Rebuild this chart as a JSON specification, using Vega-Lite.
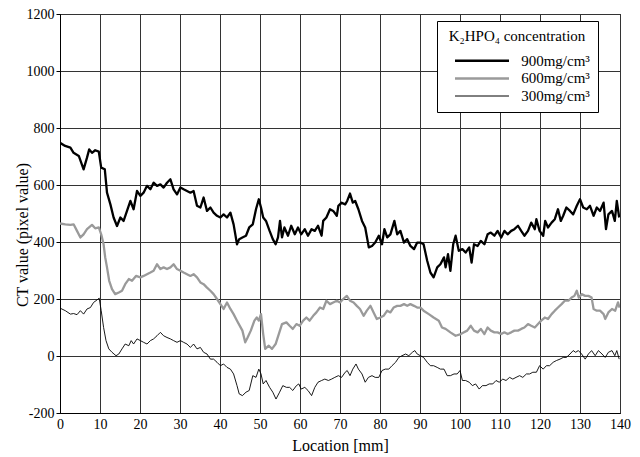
{
  "$schema": "https://vega.github.io/schema/vega-lite/v6.json",
  "width": 560,
  "height": 399,
  "autosize": {"type": "none"},
  "padding": {"left": 60, "top": 14, "right": 20, "bottom": 44},
  "background": "white",
  "config": {
    "font": "Liberation Serif",
    "view": {"stroke": "black", "strokeWidth": 1},
    "axis": {
      "labelFont": "Liberation Serif", "titleFont": "Liberation Serif",
      "labelFontSize": 14, "titleFontSize": 16, "titleFontWeight": "normal",
      "labelColor": "black", "titleColor": "black",
      "gridColor": "#333", "gridWidth": 1, "gridOpacity": 1,
      "domainColor": "black", "tickColor": "black", "tickSize": 4
    },
    "legend": {
      "labelFont": "Liberation Serif", "titleFont": "Liberation Serif"
    }
  },
  "data": {"values": [
    {"x":0,"v":748,"c":"900mg/cm³"},{"x":1.3,"v":737,"c":"900mg/cm³"},{"x":2.6,"v":731,"c":"900mg/cm³"},{"x":3.4,"v":713,"c":"900mg/cm³"},{"x":4.7,"v":702,"c":"900mg/cm³"},{"x":5.9,"v":655,"c":"900mg/cm³"},{"x":6.75,"v":696,"c":"900mg/cm³"},{"x":7.3,"v":725,"c":"900mg/cm³"},{"x":8,"v":713,"c":"900mg/cm³"},{"x":8.8,"v":722,"c":"900mg/cm³"},{"x":9.7,"v":717,"c":"900mg/cm³"},{"x":10.3,"v":661,"c":"900mg/cm³"},{"x":11.2,"v":655,"c":"900mg/cm³"},{"x":11.75,"v":573,"c":"900mg/cm³"},{"x":12.6,"v":532,"c":"900mg/cm³"},{"x":13.4,"v":486,"c":"900mg/cm³"},{"x":14.25,"v":456,"c":"900mg/cm³"},{"x":15.1,"v":486,"c":"900mg/cm³"},{"x":15.9,"v":474,"c":"900mg/cm³"},{"x":16.75,"v":509,"c":"900mg/cm³"},{"x":17.6,"v":544,"c":"900mg/cm³"},{"x":18.4,"v":515,"c":"900mg/cm³"},{"x":19.25,"v":579,"c":"900mg/cm³"},{"x":20.1,"v":562,"c":"900mg/cm³"},{"x":20.9,"v":573,"c":"900mg/cm³"},{"x":21.75,"v":597,"c":"900mg/cm³"},{"x":22.6,"v":585,"c":"900mg/cm³"},{"x":23.4,"v":608,"c":"900mg/cm³"},{"x":24.25,"v":597,"c":"900mg/cm³"},{"x":25.1,"v":602,"c":"900mg/cm³"},{"x":25.9,"v":591,"c":"900mg/cm³"},{"x":26.75,"v":608,"c":"900mg/cm³"},{"x":27.6,"v":620,"c":"900mg/cm³"},{"x":28.4,"v":585,"c":"900mg/cm³"},{"x":29.25,"v":567,"c":"900mg/cm³"},{"x":30.1,"v":591,"c":"900mg/cm³"},{"x":30.9,"v":585,"c":"900mg/cm³"},{"x":31.75,"v":579,"c":"900mg/cm³"},{"x":32.6,"v":573,"c":"900mg/cm³"},{"x":33.4,"v":579,"c":"900mg/cm³"},{"x":34.25,"v":527,"c":"900mg/cm³"},{"x":35.1,"v":521,"c":"900mg/cm³"},{"x":35.9,"v":556,"c":"900mg/cm³"},{"x":36.75,"v":509,"c":"900mg/cm³"},{"x":37.6,"v":521,"c":"900mg/cm³"},{"x":38.4,"v":503,"c":"900mg/cm³"},{"x":39.25,"v":492,"c":"900mg/cm³"},{"x":40.1,"v":486,"c":"900mg/cm³"},{"x":40.9,"v":497,"c":"900mg/cm³"},{"x":41.75,"v":486,"c":"900mg/cm³"},{"x":42.6,"v":503,"c":"900mg/cm³"},{"x":43.4,"v":462,"c":"900mg/cm³"},{"x":44.25,"v":392,"c":"900mg/cm³"},
    {"x":44.8,"v":410,"c":"900mg/cm³"},{"x":45.6,"v":416,"c":"900mg/cm³"},{"x":46.5,"v":422,"c":"900mg/cm³"},{"x":47.3,"v":451,"c":"900mg/cm³"},{"x":48.2,"v":462,"c":"900mg/cm³"},{"x":49,"v":515,"c":"900mg/cm³"},{"x":49.7,"v":550,"c":"900mg/cm³"},{"x":50.25,"v":521,"c":"900mg/cm³"},{"x":50.8,"v":486,"c":"900mg/cm³"},{"x":51.5,"v":474,"c":"900mg/cm³"},{"x":52.4,"v":439,"c":"900mg/cm³"},{"x":53.2,"v":410,"c":"900mg/cm³"},{"x":53.9,"v":392,"c":"900mg/cm³"},{"x":54.5,"v":416,"c":"900mg/cm³"},{"x":55,"v":474,"c":"900mg/cm³"},{"x":55.5,"v":416,"c":"900mg/cm³"},{"x":56.1,"v":451,"c":"900mg/cm³"},{"x":57,"v":422,"c":"900mg/cm³"},{"x":57.8,"v":457,"c":"900mg/cm³"},{"x":58.7,"v":427,"c":"900mg/cm³"},{"x":59.5,"v":451,"c":"900mg/cm³"},{"x":60.3,"v":427,"c":"900mg/cm³"},{"x":61.2,"v":445,"c":"900mg/cm³"},{"x":62,"v":422,"c":"900mg/cm³"},{"x":62.9,"v":445,"c":"900mg/cm³"},{"x":63.7,"v":439,"c":"900mg/cm³"},{"x":64.5,"v":457,"c":"900mg/cm³"},{"x":65.4,"v":422,"c":"900mg/cm³"},{"x":65.8,"v":474,"c":"900mg/cm³"},{"x":66.6,"v":486,"c":"900mg/cm³"},{"x":67.5,"v":515,"c":"900mg/cm³"},{"x":68.3,"v":509,"c":"900mg/cm³"},{"x":69.2,"v":492,"c":"900mg/cm³"},{"x":69.6,"v":527,"c":"900mg/cm³"},{"x":70.4,"v":538,"c":"900mg/cm³"},{"x":71.3,"v":532,"c":"900mg/cm³"},{"x":71.8,"v":544,"c":"900mg/cm³"},{"x":72.5,"v":570,"c":"900mg/cm³"},{"x":73.2,"v":538,"c":"900mg/cm³"},{"x":73.8,"v":544,"c":"900mg/cm³"},{"x":74.6,"v":515,"c":"900mg/cm³"},{"x":75.5,"v":474,"c":"900mg/cm³"},{"x":76.3,"v":451,"c":"900mg/cm³"},{"x":77.2,"v":381,"c":"900mg/cm³"},{"x":78,"v":386,"c":"900mg/cm³"},{"x":78.8,"v":398,"c":"900mg/cm³"},{"x":79.7,"v":422,"c":"900mg/cm³"},{"x":80.5,"v":392,"c":"900mg/cm³"},{"x":81.1,"v":445,"c":"900mg/cm³"},{"x":81.8,"v":416,"c":"900mg/cm³"},{"x":82.6,"v":427,"c":"900mg/cm³"},{"x":83.6,"v":474,"c":"900mg/cm³"},{"x":84.3,"v":427,"c":"900mg/cm³"},{"x":85.1,"v":439,"c":"900mg/cm³"},{"x":86,"v":398,"c":"900mg/cm³"},{"x":86.8,"v":410,"c":"900mg/cm³"},{"x":87.6,"v":386,"c":"900mg/cm³"},{"x":88.5,"v":375,"c":"900mg/cm³"},{"x":89.3,"v":398,"c":"900mg/cm³"},
    {"x":90.1,"v":398,"c":"900mg/cm³"},{"x":90.9,"v":392,"c":"900mg/cm³"},{"x":91.8,"v":334,"c":"900mg/cm³"},{"x":92.6,"v":293,"c":"900mg/cm³"},{"x":93.4,"v":276,"c":"900mg/cm³"},{"x":94.3,"v":311,"c":"900mg/cm³"},{"x":95.1,"v":322,"c":"900mg/cm³"},{"x":96,"v":346,"c":"900mg/cm³"},{"x":96.4,"v":311,"c":"900mg/cm³"},{"x":97,"v":357,"c":"900mg/cm³"},{"x":97.6,"v":299,"c":"900mg/cm³"},{"x":98.3,"v":392,"c":"900mg/cm³"},{"x":98.9,"v":422,"c":"900mg/cm³"},{"x":99.7,"v":369,"c":"900mg/cm³"},{"x":100.6,"v":375,"c":"900mg/cm³"},{"x":101.4,"v":363,"c":"900mg/cm³"},{"x":102.3,"v":381,"c":"900mg/cm³"},{"x":102.9,"v":328,"c":"900mg/cm³"},{"x":103.5,"v":392,"c":"900mg/cm³"},{"x":104.4,"v":386,"c":"900mg/cm³"},{"x":105.2,"v":404,"c":"900mg/cm³"},{"x":106.1,"v":392,"c":"900mg/cm³"},{"x":106.9,"v":427,"c":"900mg/cm³"},{"x":107.7,"v":433,"c":"900mg/cm³"},{"x":108.6,"v":422,"c":"900mg/cm³"},{"x":109.4,"v":439,"c":"900mg/cm³"},{"x":110.3,"v":416,"c":"900mg/cm³"},{"x":111.1,"v":439,"c":"900mg/cm³"},{"x":111.9,"v":427,"c":"900mg/cm³"},{"x":112.8,"v":439,"c":"900mg/cm³"},{"x":113.6,"v":445,"c":"900mg/cm³"},{"x":114.5,"v":457,"c":"900mg/cm³"},{"x":115.3,"v":439,"c":"900mg/cm³"},{"x":116.1,"v":422,"c":"900mg/cm³"},{"x":117,"v":439,"c":"900mg/cm³"},{"x":117.8,"v":468,"c":"900mg/cm³"},{"x":118.7,"v":445,"c":"900mg/cm³"},{"x":119.1,"v":480,"c":"900mg/cm³"},{"x":119.9,"v":439,"c":"900mg/cm³"},{"x":120.8,"v":422,"c":"900mg/cm³"},{"x":121.3,"v":474,"c":"900mg/cm³"},{"x":122,"v":451,"c":"900mg/cm³"},{"x":122.9,"v":468,"c":"900mg/cm³"},{"x":123.7,"v":480,"c":"900mg/cm³"},{"x":124.5,"v":515,"c":"900mg/cm³"},{"x":125.2,"v":474,"c":"900mg/cm³"},{"x":125.8,"v":492,"c":"900mg/cm³"},{"x":126.6,"v":521,"c":"900mg/cm³"},{"x":127.5,"v":509,"c":"900mg/cm³"},{"x":128.3,"v":497,"c":"900mg/cm³"},{"x":129.2,"v":527,"c":"900mg/cm³"},{"x":130,"v":550,"c":"900mg/cm³"},{"x":130.8,"v":521,"c":"900mg/cm³"},{"x":131.7,"v":515,"c":"900mg/cm³"},{"x":132.5,"v":527,"c":"900mg/cm³"},{"x":133.4,"v":492,"c":"900mg/cm³"},{"x":134.2,"v":521,"c":"900mg/cm³"},{"x":135,"v":509,"c":"900mg/cm³"},{"x":135.9,"v":538,"c":"900mg/cm³"},{"x":136.5,"v":445,"c":"900mg/cm³"},{"x":137.1,"v":497,"c":"900mg/cm³"},{"x":138,"v":509,"c":"900mg/cm³"},{"x":138.7,"v":474,"c":"900mg/cm³"},{"x":139.2,"v":544,"c":"900mg/cm³"},{"x":139.8,"v":486,"c":"900mg/cm³"},

    {"x":0,"v":465,"c":"600mg/cm³"},{"x":1.33,"v":462,"c":"600mg/cm³"},{"x":2.6,"v":460,"c":"600mg/cm³"},{"x":3.4,"v":462,"c":"600mg/cm³"},{"x":4.25,"v":439,"c":"600mg/cm³"},{"x":5.1,"v":416,"c":"600mg/cm³"},{"x":5.9,"v":427,"c":"600mg/cm³"},{"x":6.75,"v":445,"c":"600mg/cm³"},{"x":8,"v":460,"c":"600mg/cm³"},{"x":8.8,"v":448,"c":"600mg/cm³"},{"x":9.7,"v":451,"c":"600mg/cm³"},{"x":10.3,"v":427,"c":"600mg/cm³"},{"x":10.9,"v":392,"c":"600mg/cm³"},{"x":11.3,"v":346,"c":"600mg/cm³"},{"x":11.75,"v":311,"c":"600mg/cm³"},{"x":12.3,"v":264,"c":"600mg/cm³"},{"x":13,"v":235,"c":"600mg/cm³"},{"x":13.8,"v":217,"c":"600mg/cm³"},{"x":14.7,"v":223,"c":"600mg/cm³"},{"x":15.5,"v":229,"c":"600mg/cm³"},{"x":16.3,"v":252,"c":"600mg/cm³"},{"x":17.2,"v":270,"c":"600mg/cm³"},{"x":18,"v":264,"c":"600mg/cm³"},{"x":19,"v":281,"c":"600mg/cm³"},{"x":20.1,"v":276,"c":"600mg/cm³"},{"x":20.9,"v":281,"c":"600mg/cm³"},{"x":21.75,"v":287,"c":"600mg/cm³"},{"x":22.6,"v":293,"c":"600mg/cm³"},{"x":23.4,"v":299,"c":"600mg/cm³"},{"x":24.25,"v":322,"c":"600mg/cm³"},{"x":25.1,"v":305,"c":"600mg/cm³"},{"x":25.9,"v":311,"c":"600mg/cm³"},{"x":26.75,"v":305,"c":"600mg/cm³"},{"x":27.6,"v":311,"c":"600mg/cm³"},{"x":28.4,"v":322,"c":"600mg/cm³"},{"x":29.25,"v":305,"c":"600mg/cm³"},{"x":30.1,"v":299,"c":"600mg/cm³"},{"x":30.9,"v":293,"c":"600mg/cm³"},{"x":31.75,"v":287,"c":"600mg/cm³"},{"x":32.6,"v":281,"c":"600mg/cm³"},{"x":33.4,"v":287,"c":"600mg/cm³"},{"x":34.25,"v":276,"c":"600mg/cm³"},{"x":35.1,"v":258,"c":"600mg/cm³"},{"x":35.9,"v":252,"c":"600mg/cm³"},{"x":36.75,"v":240,"c":"600mg/cm³"},{"x":37.6,"v":229,"c":"600mg/cm³"},{"x":38.4,"v":217,"c":"600mg/cm³"},{"x":39.25,"v":200,"c":"600mg/cm³"},{"x":40.1,"v":182,"c":"600mg/cm³"},{"x":40.9,"v":165,"c":"600mg/cm³"},{"x":41.75,"v":188,"c":"600mg/cm³"},{"x":42.6,"v":165,"c":"600mg/cm³"},{"x":43.4,"v":147,"c":"600mg/cm³"},{"x":44.25,"v":124,"c":"600mg/cm³"},
    {"x":45.6,"v":89,"c":"600mg/cm³"},{"x":46.3,"v":48,"c":"600mg/cm³"},{"x":46.9,"v":65,"c":"600mg/cm³"},{"x":47.7,"v":89,"c":"600mg/cm³"},{"x":48.6,"v":124,"c":"600mg/cm³"},{"x":49.2,"v":135,"c":"600mg/cm³"},{"x":49.7,"v":124,"c":"600mg/cm³"},{"x":50.25,"v":147,"c":"600mg/cm³"},{"x":50.8,"v":77,"c":"600mg/cm³"},{"x":51.3,"v":25,"c":"600mg/cm³"},{"x":52.2,"v":36,"c":"600mg/cm³"},{"x":53,"v":25,"c":"600mg/cm³"},{"x":53.9,"v":42,"c":"600mg/cm³"},{"x":54.7,"v":77,"c":"600mg/cm³"},{"x":55.5,"v":112,"c":"600mg/cm³"},{"x":56.6,"v":118,"c":"600mg/cm³"},{"x":57.4,"v":106,"c":"600mg/cm³"},{"x":58.2,"v":95,"c":"600mg/cm³"},{"x":59.1,"v":112,"c":"600mg/cm³"},{"x":59.9,"v":106,"c":"600mg/cm³"},{"x":60.8,"v":124,"c":"600mg/cm³"},{"x":61.6,"v":135,"c":"600mg/cm³"},{"x":62.4,"v":124,"c":"600mg/cm³"},{"x":63.3,"v":141,"c":"600mg/cm³"},{"x":64.1,"v":153,"c":"600mg/cm³"},{"x":65,"v":170,"c":"600mg/cm³"},{"x":65.8,"v":165,"c":"600mg/cm³"},{"x":66.6,"v":194,"c":"600mg/cm³"},{"x":67.5,"v":182,"c":"600mg/cm³"},{"x":68.3,"v":188,"c":"600mg/cm³"},{"x":69.2,"v":194,"c":"600mg/cm³"},{"x":70,"v":188,"c":"600mg/cm³"},{"x":70.8,"v":200,"c":"600mg/cm³"},{"x":71.7,"v":211,"c":"600mg/cm³"},{"x":72.5,"v":194,"c":"600mg/cm³"},{"x":73.4,"v":188,"c":"600mg/cm³"},{"x":74.2,"v":176,"c":"600mg/cm³"},{"x":75,"v":165,"c":"600mg/cm³"},{"x":75.9,"v":141,"c":"600mg/cm³"},{"x":76.7,"v":159,"c":"600mg/cm³"},{"x":77.6,"v":176,"c":"600mg/cm³"},{"x":78.4,"v":153,"c":"600mg/cm³"},{"x":79.2,"v":130,"c":"600mg/cm³"},{"x":80.1,"v":135,"c":"600mg/cm³"},{"x":80.9,"v":141,"c":"600mg/cm³"},{"x":81.8,"v":159,"c":"600mg/cm³"},{"x":82.6,"v":153,"c":"600mg/cm³"},{"x":83.4,"v":170,"c":"600mg/cm³"},{"x":84.3,"v":176,"c":"600mg/cm³"},{"x":85.1,"v":176,"c":"600mg/cm³"},{"x":86,"v":182,"c":"600mg/cm³"},{"x":86.8,"v":176,"c":"600mg/cm³"},{"x":87.6,"v":182,"c":"600mg/cm³"},{"x":88.5,"v":176,"c":"600mg/cm³"},{"x":89.3,"v":170,"c":"600mg/cm³"},
    {"x":90.1,"v":170,"c":"600mg/cm³"},{"x":90.9,"v":159,"c":"600mg/cm³"},{"x":92.2,"v":147,"c":"600mg/cm³"},{"x":93.4,"v":135,"c":"600mg/cm³"},{"x":94.7,"v":124,"c":"600mg/cm³"},{"x":95.5,"v":100,"c":"600mg/cm³"},{"x":96.4,"v":95,"c":"600mg/cm³"},{"x":97.6,"v":83,"c":"600mg/cm³"},{"x":98.9,"v":71,"c":"600mg/cm³"},{"x":100.2,"v":77,"c":"600mg/cm³"},{"x":101,"v":83,"c":"600mg/cm³"},{"x":101.8,"v":89,"c":"600mg/cm³"},{"x":102.7,"v":106,"c":"600mg/cm³"},{"x":103.5,"v":89,"c":"600mg/cm³"},{"x":104.4,"v":83,"c":"600mg/cm³"},{"x":105.2,"v":95,"c":"600mg/cm³"},{"x":106.1,"v":77,"c":"600mg/cm³"},{"x":106.9,"v":100,"c":"600mg/cm³"},{"x":107.7,"v":89,"c":"600mg/cm³"},{"x":108.6,"v":83,"c":"600mg/cm³"},{"x":109.4,"v":83,"c":"600mg/cm³"},{"x":110.3,"v":77,"c":"600mg/cm³"},{"x":111.1,"v":83,"c":"600mg/cm³"},{"x":111.9,"v":77,"c":"600mg/cm³"},{"x":112.8,"v":83,"c":"600mg/cm³"},{"x":113.6,"v":89,"c":"600mg/cm³"},{"x":114.5,"v":89,"c":"600mg/cm³"},{"x":115.3,"v":95,"c":"600mg/cm³"},{"x":116.1,"v":100,"c":"600mg/cm³"},{"x":117,"v":112,"c":"600mg/cm³"},{"x":117.8,"v":106,"c":"600mg/cm³"},{"x":118.7,"v":100,"c":"600mg/cm³"},{"x":119.5,"v":112,"c":"600mg/cm³"},{"x":120.3,"v":124,"c":"600mg/cm³"},{"x":121.2,"v":135,"c":"600mg/cm³"},{"x":122,"v":130,"c":"600mg/cm³"},{"x":122.9,"v":147,"c":"600mg/cm³"},{"x":123.7,"v":159,"c":"600mg/cm³"},{"x":124.5,"v":170,"c":"600mg/cm³"},{"x":125.4,"v":182,"c":"600mg/cm³"},{"x":126.2,"v":194,"c":"600mg/cm³"},{"x":127.1,"v":194,"c":"600mg/cm³"},{"x":127.9,"v":205,"c":"600mg/cm³"},{"x":128.6,"v":211,"c":"600mg/cm³"},{"x":129.2,"v":229,"c":"600mg/cm³"},{"x":129.7,"v":205,"c":"600mg/cm³"},{"x":130.4,"v":217,"c":"600mg/cm³"},{"x":131.3,"v":211,"c":"600mg/cm³"},{"x":132.1,"v":211,"c":"600mg/cm³"},{"x":132.9,"v":205,"c":"600mg/cm³"},{"x":133.4,"v":165,"c":"600mg/cm³"},{"x":134.2,"v":159,"c":"600mg/cm³"},{"x":135,"v":159,"c":"600mg/cm³"},{"x":135.9,"v":147,"c":"600mg/cm³"},{"x":136.3,"v":130,"c":"600mg/cm³"},{"x":137.1,"v":153,"c":"600mg/cm³"},{"x":138,"v":165,"c":"600mg/cm³"},{"x":138.8,"v":159,"c":"600mg/cm³"},{"x":139.5,"v":188,"c":"600mg/cm³"},{"x":139.9,"v":170,"c":"600mg/cm³"},

    {"x":0,"v":168,"c":"300mg/cm³"},{"x":1.33,"v":159,"c":"300mg/cm³"},{"x":2.6,"v":147,"c":"300mg/cm³"},{"x":3.4,"v":149,"c":"300mg/cm³"},{"x":4.25,"v":145,"c":"300mg/cm³"},{"x":5.1,"v":159,"c":"300mg/cm³"},{"x":5.9,"v":147,"c":"300mg/cm³"},{"x":6.75,"v":165,"c":"300mg/cm³"},{"x":7.6,"v":170,"c":"300mg/cm³"},{"x":8.4,"v":188,"c":"300mg/cm³"},{"x":9,"v":194,"c":"300mg/cm³"},{"x":9.8,"v":203,"c":"300mg/cm³"},{"x":10.3,"v":159,"c":"300mg/cm³"},{"x":10.9,"v":100,"c":"300mg/cm³"},{"x":11.5,"v":54,"c":"300mg/cm³"},{"x":12.2,"v":25,"c":"300mg/cm³"},{"x":13,"v":13,"c":"300mg/cm³"},{"x":14,"v":1,"c":"300mg/cm³"},{"x":14.7,"v":7,"c":"300mg/cm³"},{"x":15.5,"v":25,"c":"300mg/cm³"},{"x":16.3,"v":42,"c":"300mg/cm³"},{"x":17.2,"v":36,"c":"300mg/cm³"},{"x":17.8,"v":54,"c":"300mg/cm³"},{"x":18.4,"v":42,"c":"300mg/cm³"},{"x":19.25,"v":60,"c":"300mg/cm³"},{"x":20.1,"v":54,"c":"300mg/cm³"},{"x":20.9,"v":48,"c":"300mg/cm³"},{"x":21.75,"v":42,"c":"300mg/cm³"},{"x":22.6,"v":54,"c":"300mg/cm³"},{"x":23.4,"v":60,"c":"300mg/cm³"},{"x":24.25,"v":71,"c":"300mg/cm³"},{"x":25.1,"v":83,"c":"300mg/cm³"},{"x":25.9,"v":71,"c":"300mg/cm³"},{"x":26.75,"v":65,"c":"300mg/cm³"},{"x":27.6,"v":60,"c":"300mg/cm³"},{"x":28.4,"v":54,"c":"300mg/cm³"},{"x":29.25,"v":48,"c":"300mg/cm³"},{"x":30.1,"v":54,"c":"300mg/cm³"},{"x":30.9,"v":48,"c":"300mg/cm³"},{"x":31.75,"v":42,"c":"300mg/cm³"},{"x":32.6,"v":30,"c":"300mg/cm³"},{"x":33.4,"v":42,"c":"300mg/cm³"},{"x":34.25,"v":25,"c":"300mg/cm³"},{"x":35.1,"v":30,"c":"300mg/cm³"},{"x":35.9,"v":13,"c":"300mg/cm³"},{"x":36.75,"v":7,"c":"300mg/cm³"},{"x":37.6,"v":-11,"c":"300mg/cm³"},{"x":38.4,"v":-11,"c":"300mg/cm³"},{"x":39.25,"v":-22,"c":"300mg/cm³"},{"x":40.1,"v":-34,"c":"300mg/cm³"},{"x":40.9,"v":-28,"c":"300mg/cm³"},{"x":41.75,"v":-40,"c":"300mg/cm³"},{"x":42.6,"v":-46,"c":"300mg/cm³"},{"x":43.4,"v":-63,"c":"300mg/cm³"},{"x":44.25,"v":-104,"c":"300mg/cm³"},
    {"x":44.8,"v":-133,"c":"300mg/cm³"},{"x":45.6,"v":-139,"c":"300mg/cm³"},{"x":46.5,"v":-127,"c":"300mg/cm³"},{"x":47.3,"v":-121,"c":"300mg/cm³"},{"x":48.2,"v":-69,"c":"300mg/cm³"},{"x":49,"v":-75,"c":"300mg/cm³"},{"x":49.7,"v":-46,"c":"300mg/cm³"},{"x":50.25,"v":-63,"c":"300mg/cm³"},{"x":50.8,"v":-98,"c":"300mg/cm³"},{"x":51.5,"v":-86,"c":"300mg/cm³"},{"x":52.4,"v":-110,"c":"300mg/cm³"},{"x":53.2,"v":-127,"c":"300mg/cm³"},{"x":54,"v":-151,"c":"300mg/cm³"},{"x":54.9,"v":-127,"c":"300mg/cm³"},{"x":55.7,"v":-104,"c":"300mg/cm³"},{"x":56.6,"v":-110,"c":"300mg/cm³"},{"x":57.4,"v":-110,"c":"300mg/cm³"},{"x":58.2,"v":-121,"c":"300mg/cm³"},{"x":59.1,"v":-104,"c":"300mg/cm³"},{"x":59.7,"v":-98,"c":"300mg/cm³"},{"x":60.3,"v":-116,"c":"300mg/cm³"},{"x":61.2,"v":-110,"c":"300mg/cm³"},{"x":62,"v":-121,"c":"300mg/cm³"},{"x":62.9,"v":-139,"c":"300mg/cm³"},{"x":63.7,"v":-110,"c":"300mg/cm³"},{"x":64.5,"v":-92,"c":"300mg/cm³"},{"x":65.4,"v":-86,"c":"300mg/cm³"},{"x":66.2,"v":-81,"c":"300mg/cm³"},{"x":67.1,"v":-86,"c":"300mg/cm³"},{"x":67.9,"v":-81,"c":"300mg/cm³"},{"x":68.7,"v":-75,"c":"300mg/cm³"},{"x":69.6,"v":-69,"c":"300mg/cm³"},{"x":70.4,"v":-75,"c":"300mg/cm³"},{"x":71.3,"v":-57,"c":"300mg/cm³"},{"x":71.8,"v":-51,"c":"300mg/cm³"},{"x":72.5,"v":-69,"c":"300mg/cm³"},{"x":73.2,"v":-46,"c":"300mg/cm³"},{"x":74,"v":-28,"c":"300mg/cm³"},{"x":74.6,"v":-46,"c":"300mg/cm³"},{"x":75.5,"v":-63,"c":"300mg/cm³"},{"x":76.3,"v":-92,"c":"300mg/cm³"},{"x":77.1,"v":-75,"c":"300mg/cm³"},{"x":78,"v":-69,"c":"300mg/cm³"},{"x":78.8,"v":-75,"c":"300mg/cm³"},{"x":79.7,"v":-75,"c":"300mg/cm³"},{"x":80.5,"v":-51,"c":"300mg/cm³"},{"x":81.3,"v":-46,"c":"300mg/cm³"},{"x":82.2,"v":-46,"c":"300mg/cm³"},{"x":83,"v":-34,"c":"300mg/cm³"},{"x":83.9,"v":-22,"c":"300mg/cm³"},{"x":84.7,"v":-5,"c":"300mg/cm³"},{"x":85.5,"v":1,"c":"300mg/cm³"},{"x":86.4,"v":7,"c":"300mg/cm³"},{"x":87.2,"v":1,"c":"300mg/cm³"},{"x":88.1,"v":13,"c":"300mg/cm³"},{"x":88.7,"v":19,"c":"300mg/cm³"},{"x":89.3,"v":7,"c":"300mg/cm³"},
    {"x":90.1,"v":1,"c":"300mg/cm³"},{"x":90.9,"v":-5,"c":"300mg/cm³"},{"x":91.8,"v":-22,"c":"300mg/cm³"},{"x":92.6,"v":-34,"c":"300mg/cm³"},{"x":93.4,"v":-34,"c":"300mg/cm³"},{"x":94.3,"v":-40,"c":"300mg/cm³"},{"x":95.1,"v":-46,"c":"300mg/cm³"},{"x":96,"v":-46,"c":"300mg/cm³"},{"x":96.8,"v":-69,"c":"300mg/cm³"},{"x":97.6,"v":-69,"c":"300mg/cm³"},{"x":98.5,"v":-63,"c":"300mg/cm³"},{"x":99.3,"v":-63,"c":"300mg/cm³"},{"x":100,"v":-51,"c":"300mg/cm³"},{"x":100.6,"v":-86,"c":"300mg/cm³"},{"x":101.4,"v":-86,"c":"300mg/cm³"},{"x":102.3,"v":-92,"c":"300mg/cm³"},{"x":103.1,"v":-104,"c":"300mg/cm³"},{"x":103.9,"v":-98,"c":"300mg/cm³"},{"x":104.8,"v":-116,"c":"300mg/cm³"},{"x":105.6,"v":-104,"c":"300mg/cm³"},{"x":106.5,"v":-104,"c":"300mg/cm³"},{"x":107.3,"v":-98,"c":"300mg/cm³"},{"x":108.2,"v":-98,"c":"300mg/cm³"},{"x":109,"v":-86,"c":"300mg/cm³"},{"x":109.8,"v":-92,"c":"300mg/cm³"},{"x":110.7,"v":-81,"c":"300mg/cm³"},{"x":111.5,"v":-86,"c":"300mg/cm³"},{"x":112.4,"v":-75,"c":"300mg/cm³"},{"x":113.2,"v":-81,"c":"300mg/cm³"},{"x":114,"v":-75,"c":"300mg/cm³"},{"x":114.9,"v":-69,"c":"300mg/cm³"},{"x":115.7,"v":-75,"c":"300mg/cm³"},{"x":116.6,"v":-63,"c":"300mg/cm³"},{"x":117.4,"v":-63,"c":"300mg/cm³"},{"x":118.2,"v":-57,"c":"300mg/cm³"},{"x":119.1,"v":-57,"c":"300mg/cm³"},{"x":119.9,"v":-34,"c":"300mg/cm³"},{"x":120.8,"v":-46,"c":"300mg/cm³"},{"x":121.6,"v":-34,"c":"300mg/cm³"},{"x":122.4,"v":-34,"c":"300mg/cm³"},{"x":123.3,"v":-22,"c":"300mg/cm³"},{"x":124.1,"v":-16,"c":"300mg/cm³"},{"x":125,"v":-11,"c":"300mg/cm³"},{"x":125.8,"v":-5,"c":"300mg/cm³"},{"x":126.6,"v":-5,"c":"300mg/cm³"},{"x":127.5,"v":7,"c":"300mg/cm³"},{"x":128.3,"v":19,"c":"300mg/cm³"},{"x":128.9,"v":13,"c":"300mg/cm³"},{"x":129.6,"v":19,"c":"300mg/cm³"},{"x":130.4,"v":7,"c":"300mg/cm³"},{"x":131.3,"v":-11,"c":"300mg/cm³"},{"x":132.1,"v":7,"c":"300mg/cm³"},{"x":132.9,"v":19,"c":"300mg/cm³"},{"x":133.8,"v":1,"c":"300mg/cm³"},{"x":134.6,"v":19,"c":"300mg/cm³"},{"x":135.5,"v":7,"c":"300mg/cm³"},{"x":136.3,"v":-5,"c":"300mg/cm³"},{"x":137.1,"v":13,"c":"300mg/cm³"},{"x":138,"v":19,"c":"300mg/cm³"},{"x":138.7,"v":1,"c":"300mg/cm³"},{"x":139.2,"v":19,"c":"300mg/cm³"},{"x":139.8,"v":-11,"c":"300mg/cm³"}
  ]},
  "mark": {"type": "line", "strokeJoin": "round", "clip": true},
  "encoding": {
    "x": {
      "field": "x", "type": "quantitative",
      "scale": {"domain": [0, 140], "nice": false, "zero": false},
      "axis": {"title": "Location [mm]", "values": [0,10,20,30,40,50,60,70,80,90,100,110,120,130,140], "grid": true,
               "ticks": false, "labelPadding": 4, "titlePadding": 6, "labelFlush": false,
               "labelFont": "Liberation Serif", "labelExpr": "'' + datum.value"}
    },
    "y": {
      "field": "v", "type": "quantitative",
      "scale": {"domain": [-200, 1200], "nice": false, "zero": false},
      "axis": {"title": "CT value (pixel value)", "values": [-200,0,200,400,600,800,1000,1200], "grid": true,
               "labelPadding": 2, "titleX": -30, "titleY": 220.5,
               "labelFont": "Liberation Serif", "labelExpr": "'' + datum.value", "labelFlush": false}
    },
    "color": {
      "field": "c", "type": "nominal",
      "scale": {"domain": ["900mg/cm³", "600mg/cm³", "300mg/cm³"], "range": ["#000000", "#9a9a9a", "#000000"]},
      "legend": {
        "title": "K₂HPO₄ concentration",
        "orient": "none", "legendX": 377, "legendY": 7,
        "titleFontSize": 15, "titleFontWeight": "normal", "titleColor": "black", "titleAnchor": "middle", "titlePadding": 9.3,
        "labelFontSize": 15, "labelColor": "black", "labelOffset": 31.7, "labelAlign": "left",
        "symbolType": "M-3.857,0H3.857", "symbolSize": 196, "symbolOffset": 29.5, "symbolStrokeWidth": 2.5,
        "rowPadding": 1.6,
        "padding": 8, "strokeColor": "black", "fillColor": "white",
        "encode": {"symbols": {"update": {"strokeWidth": {"signal": "datum.value === '300mg/cm³' ? 1 : 2.5"}}}}
      }
    },
    "strokeWidth": {"condition": {"test": "datum.c === '300mg/cm³'", "value": 0.9}, "value": 2.3}
  }
}
